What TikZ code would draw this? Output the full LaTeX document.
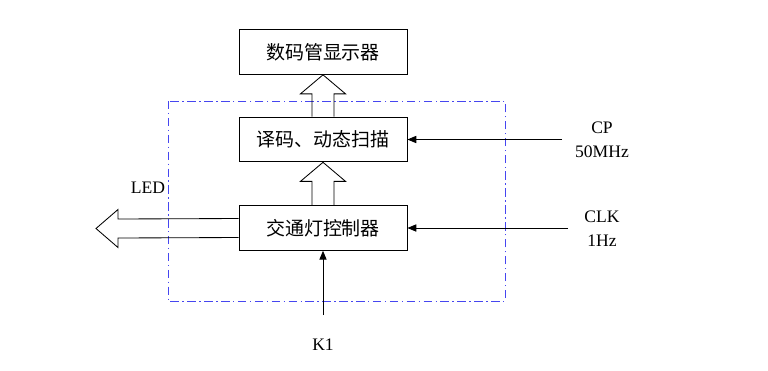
\documentclass[tikz,border=0pt]{standalone}
\usepackage{fontspec}
\setmainfont{Liberation Serif}
\newfontfamily\cjk{Noto Sans CJK SC}
\usepackage{tikz}
\usetikzlibrary{arrows.meta,positioning,calc}
\usepackage{xcolor}
\definecolor{frameblue}{RGB}{70,70,240}

\begin{document}
\begin{tikzpicture}[x=0.025cm, y=-0.025cm,
  box/.style={draw, line width=0.6pt, minimum width=4.2cm, minimum height=1.12cm,
    font=\fontsize{13.5}{16}\cjk},
  lbl/.style={font=\fontsize{12.5}{17}\selectfont, align=center},
  arr/.style={-{Triangle[length=2.2mm,width=1.8mm]}, line width=0.6pt},
  fat/.style={draw, line width=0.6pt, line join=miter}
]
\useasboundingbox (0,0) rectangle (768,370);
\node[box] (disp) at (323,52) {数码管显示器};
\node[box] (scan) at (323,139.5) {译码、动态扫描};
\node[box] (ctrl) at (323,228) {交通灯控制器};
\draw[frameblue, line width=0.5pt, dash pattern=on 6pt off 2.5pt on 1pt off 2.5pt]
  (168,101) rectangle (505,301);
% fat arrows
\draw[fat] ($(scan.north)+(-11,0)$) -- ($(disp.south)+(-11,19)$) -- ($(disp.south)+(-22.5,19)$)
  -- (disp.south) -- ($(disp.south)+(22.5,19)$) -- ($(disp.south)+(11,19)$) -- ($(scan.north)+(11,0)$);
\draw[fat] ($(ctrl.north)+(-11,0)$) -- ($(scan.south)+(-11,19)$) -- ($(scan.south)+(-22.5,19)$)
  -- (scan.south) -- ($(scan.south)+(22.5,19)$) -- ($(scan.south)+(11,19)$) -- ($(ctrl.north)+(11,0)$);
\coordinate (ledtip) at (96,228.5);
\draw[fat] ($(ctrl.west)+(0,-9.5)$) -- ($(ledtip)+(22,-9.5)$) -- ($(ledtip)+(22,-19)$)
  -- (ledtip) -- ($(ledtip)+(22,19)$) -- ($(ledtip)+(22,9.5)$) -- ($(ctrl.west)+(0,9.5)$);
\node[lbl] (led) at (148,188) {LED};
% inputs
\coordinate (cpin) at (562,139.5);
\coordinate (clkin) at (568,228);
\coordinate (kin) at (323,315);
\node[lbl] (cp) at (602,140) {CP\\50MHz};
\node[lbl] (clk) at (602,229) {CLK\\1Hz};
\node[lbl] (k1) at (323,345) {K1};
\draw[arr] (cpin) -- (scan.east);
\draw[arr] (clkin) -- (ctrl.east);
\draw[arr] (kin) -- (ctrl.south);
\end{tikzpicture}
\end{document}
